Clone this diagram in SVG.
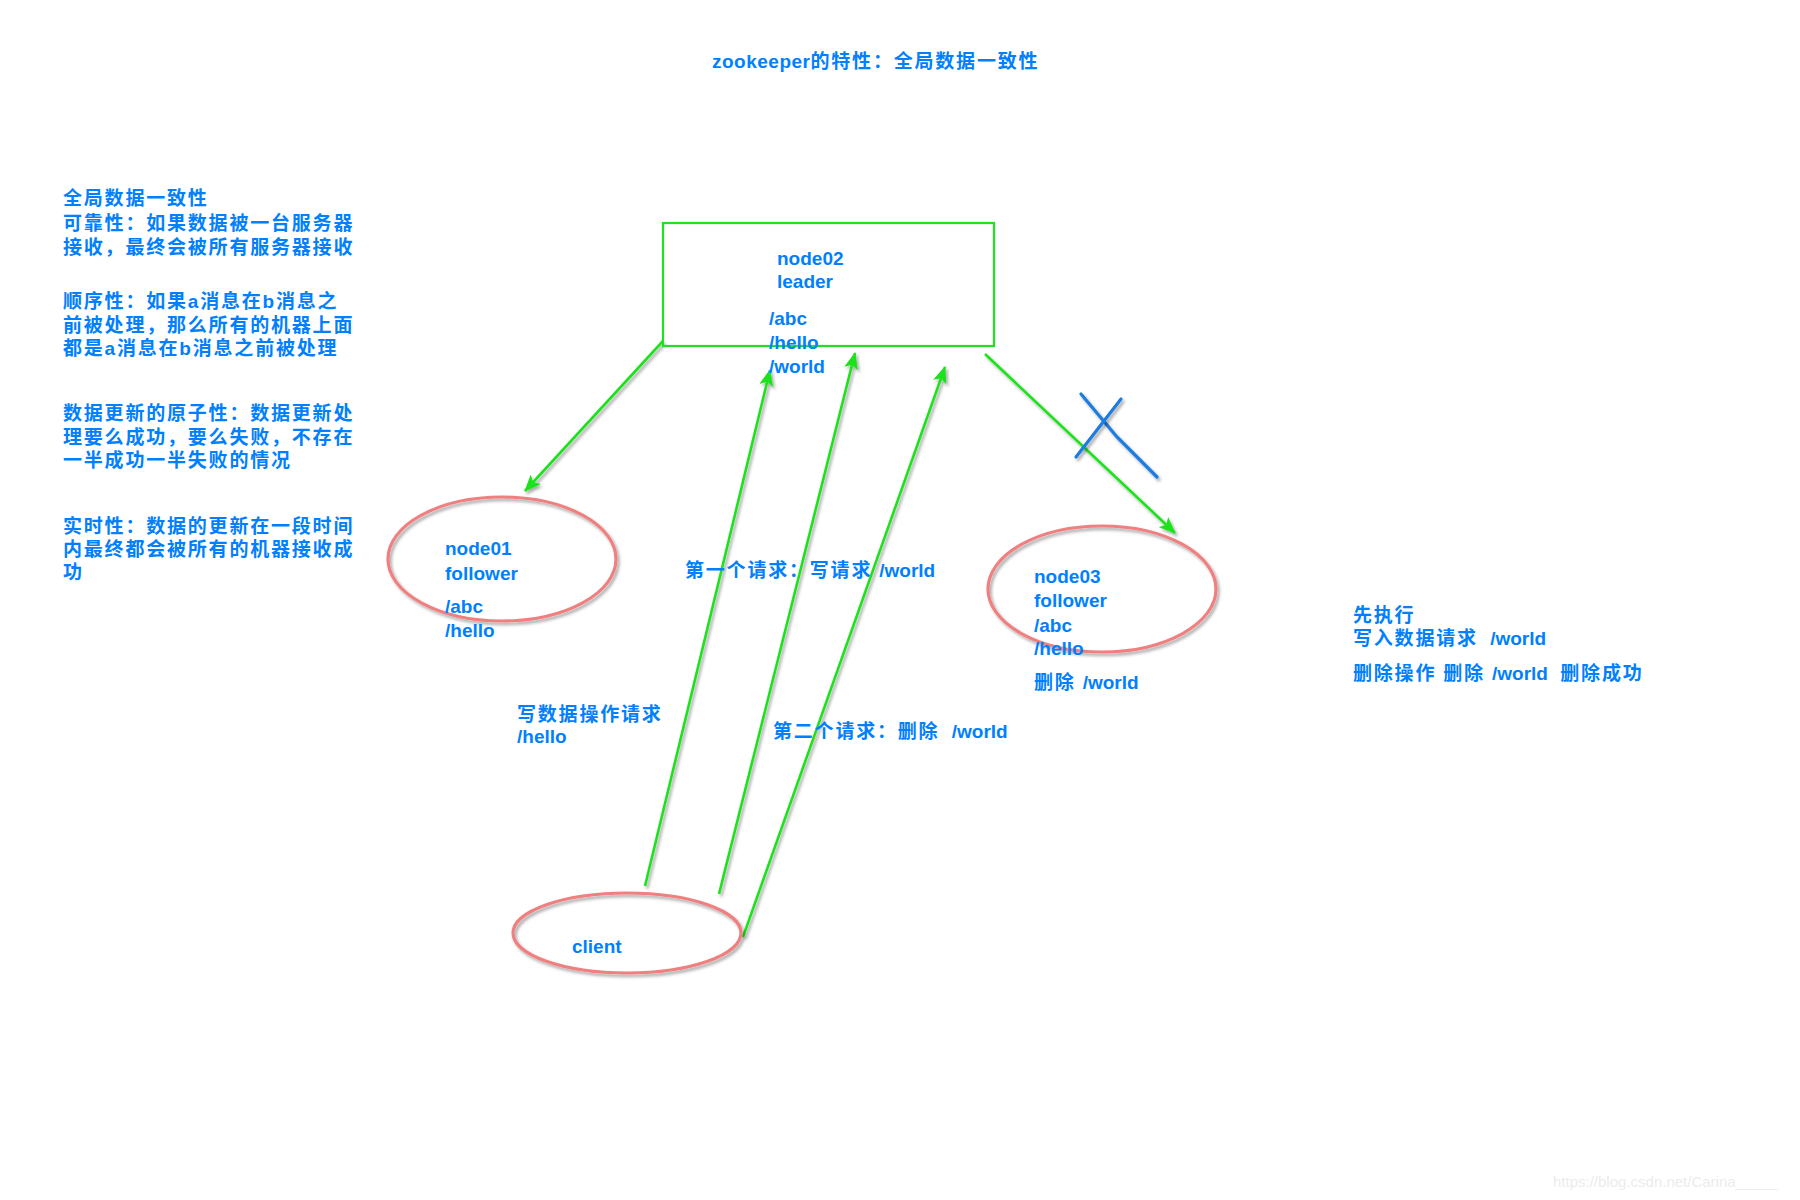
<svg xmlns="http://www.w3.org/2000/svg" width="1800" height="1200" viewBox="0 0 1800 1200">
<defs>
<style>
text{font-family:"Liberation Sans","Noto Sans CJK SC",sans-serif;font-size:19px;font-weight:bold;fill:#0080ff}
.cn{letter-spacing:1.8px}
.lt{letter-spacing:0}
.lt2{letter-spacing:0.5px}
.conn{stroke:#1fe21f;stroke-width:2.6;fill:none;filter:url(#sh)}
.node-ell{fill:none;stroke:#f08080;stroke-width:3.2;filter:url(#sh)}
.xmark{stroke:#1c7ce0;stroke-width:3.2;fill:none;stroke-linecap:round;filter:url(#sh)}
.wm{font-size:15px;font-weight:normal;fill:#ececec}
</style>
<filter id="sh" x="-20%" y="-20%" width="140%" height="140%">
<feDropShadow dx="2" dy="2.5" stdDeviation="1.4" flood-color="#000" flood-opacity="0.35"/>
</filter>
<marker id="ah" markerUnits="userSpaceOnUse" markerWidth="18" markerHeight="14" refX="16" refY="7" orient="auto">
<path d="M0,0 L17,7 L0,14 L4,7 Z" fill="#1fe21f"/>
</marker>
</defs>
<rect width="1800" height="1200" fill="#ffffff"/>

<text x="712" y="68" class="cn"><tspan class="lt2">zookeeper</tspan>的特性：全局数据一致性</text>

<g id="notes">
<text class="cn" x="63" y="205">全局数据一致性</text>
<text class="cn" x="63" y="230">可靠性：如果数据被一台服务器</text>
<text class="cn" x="63" y="254">接收，最终会被所有服务器接收</text>
<text class="cn" x="63" y="308">顺序性：如果a消息在b消息之</text>
<text class="cn" x="63" y="332">前被处理，那么所有的机器上面</text>
<text class="cn" x="63" y="355">都是a消息在b消息之前被处理</text>
<text class="cn" x="63" y="420">数据更新的原子性：数据更新处</text>
<text class="cn" x="63" y="444">理要么成功，要么失败，不存在</text>
<text class="cn" x="63" y="467">一半成功一半失败的情况</text>
<text class="cn" x="63" y="533">实时性：数据的更新在一段时间</text>
<text class="cn" x="63" y="556">内最终都会被所有的机器接收成</text>
<text class="cn" x="63" y="579">功</text>
<text class="cn" x="1353" y="622">先执行</text>
<text class="cn" x="1353" y="645">写入数据请求&#160;<tspan class="lt">&#160;/world</tspan></text>
<text class="cn" x="1353" y="680">删除操作&#160;删除&#160;<tspan class="lt">/world&#160;</tspan>&#160;删除成功</text>
<text class="wm" x="1553" y="1187">https://blog.csdn.net/Carina_____</text>
</g>

<g id="connectors">
<line class="conn" x1="663" y1="341" x2="525" y2="491" marker-end="url(#ah)"/>
<line class="conn" x1="645" y1="886" x2="770" y2="370" marker-end="url(#ah)"/>
<line class="conn" x1="719" y1="894" x2="855" y2="353" marker-end="url(#ah)"/>
<line class="conn" x1="743" y1="937" x2="945" y2="367" marker-end="url(#ah)"/>
<line class="conn" x1="985" y1="354" x2="1175" y2="533" marker-end="url(#ah)"/>
<text class="cn" x="685" y="577">第一个请求：写请求&#160;<tspan class="lt">/world</tspan></text>
<text class="cn" x="517" y="721">写数据操作请求</text>
<text x="517" y="743">/hello</text>
<text class="cn" x="773" y="738">第二个请求：删除&#160;<tspan class="lt">&#160;/world</tspan></text>
</g>

<g id="xmark">
<polyline class="xmark" points="1081,394 1117,437 1157,477"/>
<line class="xmark" x1="1121" y1="399" x2="1076" y2="457"/>
</g>

<g id="node02">
<rect x="663" y="223" width="331" height="123" fill="none" stroke="#1fe21f" stroke-width="2.2"/>
<text x="777" y="265">node02</text>
<text x="777" y="288">leader</text>
<text x="769" y="325">/abc</text>
<text x="769" y="349">/hello</text>
<text x="769" y="373">/world</text>
</g>

<g id="node01">
<ellipse class="node-ell" cx="502" cy="559" rx="114" ry="62"/>
<text x="445" y="555">node01</text>
<text x="445" y="580">follower</text>
<text x="445" y="613">/abc</text>
<text x="445" y="637">/hello</text>
</g>

<g id="node03">
<ellipse class="node-ell" cx="1102" cy="589" rx="114" ry="63"/>
<text x="1034" y="583">node03</text>
<text x="1034" y="607">follower</text>
<text x="1034" y="632">/abc</text>
<text x="1034" y="655">/hello</text>
<text class="cn" x="1034" y="689">删除&#160;<tspan class="lt">/world</tspan></text>
</g>

<g id="client">
<ellipse class="node-ell" cx="627" cy="933" rx="114" ry="40"/>
<text x="572" y="953">client</text>
</g>
</svg>
